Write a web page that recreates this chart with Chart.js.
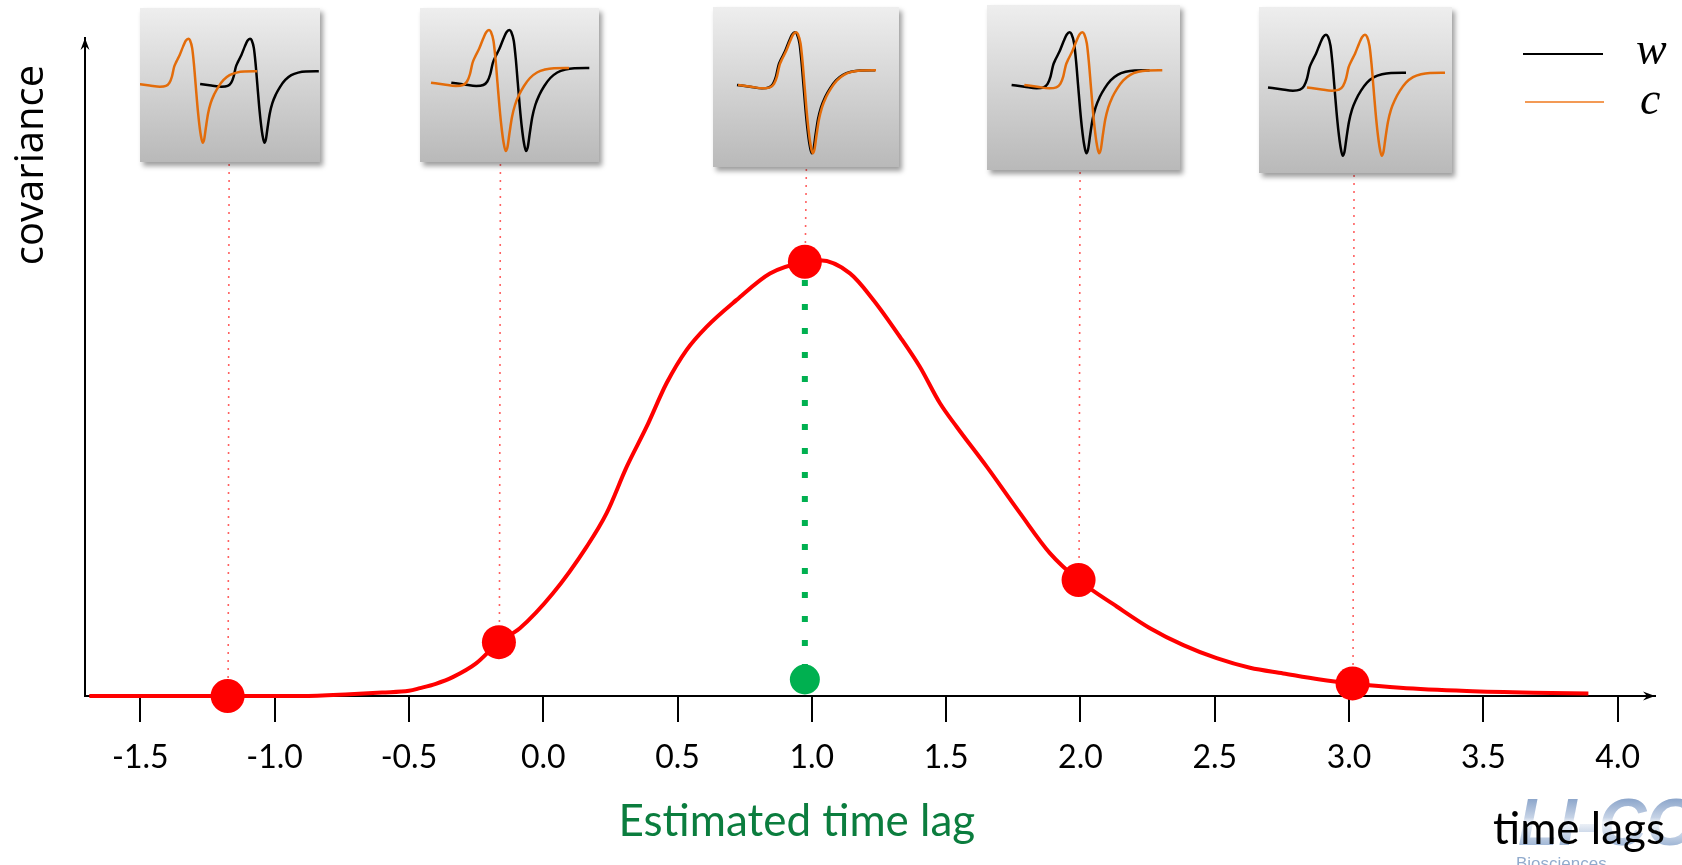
<!DOCTYPE html>
<html>
<head>
<meta charset="utf-8">
<script src="https://cdn.jsdelivr.net/npm/chart.js@4/dist/chart.umd.min.js"></script>
<style>
  html, body { margin: 0; padding: 0; background: #ffffff; }
  #wrap { position: relative; width: 1682px; height: 865px; overflow: hidden; background: #fff; }
  #main { position: absolute; left: 0; top: 0; }
  .inset { position: absolute; background: linear-gradient(#eeeeee, #b9b9b9); box-shadow: 3px 4px 5px rgba(0,0,0,0.38); }
  .inset canvas { position: absolute; left: 0; top: 0; }
</style>
</head>
<body>
<div id="wrap"><canvas id="main" width="1682" height="865"></canvas></div>
<script>
// ---------------- data ----------------
// covariance curve (time lag, covariance normalised to peak = 1)
const curveX = [-1.69, -1.45, -1.175, -0.9, -0.72, -0.6, -0.5, -0.459, -0.40, -0.335, -0.25, -0.165, -0.087,
  0.037, 0.162, 0.236, 0.311, 0.385, 0.459, 0.534, 0.608, 0.720, 0.844, 0.974, 1.030, 1.142, 1.229, 1.328,
  1.402, 1.477, 1.539, 1.651, 1.775, 1.886, 1.993, 2.135, 2.259, 2.383, 2.507, 2.631, 2.755, 2.892, 3.013,
  3.190, 3.438, 3.685, 3.891];
const curveY = [0.0, 0.0, 0.0, 0.0, 0.004, 0.008, 0.012, 0.018, 0.028, 0.044, 0.075, 0.124, 0.156,
  0.237, 0.344, 0.421, 0.528, 0.620, 0.720, 0.797, 0.850, 0.912, 0.973, 1.0, 1.003, 0.973, 0.912, 0.827,
  0.758, 0.674, 0.620, 0.528, 0.421, 0.329, 0.267, 0.206, 0.156, 0.117, 0.087, 0.065, 0.052, 0.038, 0.029,
  0.019, 0.0115, 0.0076, 0.006];
// highlighted lags (red dots)
const lagX = [-1.175, -0.165, 0.974, 1.993, 3.013];
const lagY = [0.0, 0.124, 1.0, 0.267, 0.029];
const peakIndex = 2;
// estimated time lag marker (green)
const estLagX = 0.974;
const estMarkY = 0.038;
// axis ticks
const xTickValues = [-1.5, -1.0, -0.5, 0.0, 0.5, 1.0, 1.5, 2.0, 2.5, 3.0, 3.5, 4.0];
const xMin = -1.706, xMax = 4.139, yMin = 0, yMax = 1.515;
// wave-form shape used in the insets (offset from peak, amplitude above trough)
const pulseDx = [-58, -45, -33, -26, -22, -19, -16.5, -14, -10, -6, -3, 0, 2, 4.5, 6.5, 8.5, 10.5, 12.5, 14.5,
  16.7, 18.5, 20.5, 23, 26, 30, 35, 41, 48, 56, 65, 80];
const pulseV = [68.3, 66.5, 65.0, 66.0, 69.5, 77, 88, 94, 102, 112, 118.5, 121, 119, 110, 92, 68, 44, 24, 9,
  0, 4, 18, 34, 46, 56, 65, 73, 78.5, 81.5, 82.8, 83];
// peak position of w (black) and c (orange) inside each inset
const insetPeakW = [110, 89.3, 82, 82.6, 67];
const insetPeakC = [48.3, 69, 83, 95.3, 106];
const legendLabels = ['w', 'c'];

// ---------------- layout / style ----------------
const insetLayout = [
  { left: 140, top: 8, width: 180, height: 154, trough: 134.7, scale: 0.86 },
  { left: 420, top: 8, width: 179, height: 154, trough: 143, scale: 1 },
  { left: 713, top: 7, width: 186, height: 160, trough: 146.3, scale: 1 },
  { left: 987, top: 5, width: 193, height: 165, trough: 148.3, scale: 1 },
  { left: 1259, top: 7, width: 193, height: 166, trough: 148.7, scale: 1 }
];
const RED = '#ff0000', GREEN = '#00b050', ORANGE = '#e36c0a';
const DOT_R = 17, EST_R = 15;

Chart.defaults.font.family = "Lato, 'Open Sans', sans-serif";

function arrowHead(ctx, tipX, tipY, dx, dy) {
  const len = 12, half = 4.5, notch = 8;
  const px = -dy, py = dx;
  ctx.beginPath();
  ctx.moveTo(tipX, tipY);
  ctx.lineTo(tipX - dx * len + px * half, tipY - dy * len + py * half);
  ctx.lineTo(tipX - dx * notch, tipY - dy * notch);
  ctx.lineTo(tipX - dx * len - px * half, tipY - dy * len - py * half);
  ctx.closePath();
  ctx.fill();
}

const overlay = {
  id: 'overlay',
  beforeDraw(chart) {
    const ctx = chart.ctx;
    // LI-COR watermark (bottom right)
    ctx.save();
    ctx.globalAlpha = 0.85;
    const g = ctx.createLinearGradient(0, 795, 0, 845);
    g.addColorStop(0, '#6a8bbb');
    g.addColorStop(0.45, '#bccbe2');
    g.addColorStop(0.55, '#eef2f8');
    g.addColorStop(1, '#91abcf');
    ctx.fillStyle = g;
    ctx.font = "italic bold 66px 'Liberation Sans'";
    ctx.textAlign = 'left';
    ctx.textBaseline = 'alphabetic';
    ctx.fillText('LI-COR', 1518, 845);
    ctx.fillStyle = '#7e9cc4';
    ctx.font = "17px 'Liberation Sans'";
    ctx.fillText('Biosciences', 1516, 869);
    ctx.restore();
  },
  beforeDatasetsDraw(chart) {
    const ctx = chart.ctx;
    const xs = chart.scales.x, ys = chart.scales.y;
    ctx.save();
    ctx.strokeStyle = 'rgba(255,80,80,0.9)';
    ctx.lineWidth = 1.6;
    ctx.setLineDash([2, 6]);
    lagX.forEach((v, i) => {
      const px = xs.getPixelForValue(v);
      const b = insetLayout[i];
      const yTop = b.top + b.height + 2;
      const yBot = ys.getPixelForValue(lagY[i]) - DOT_R;
      ctx.beginPath();
      ctx.moveTo(px + 1.5, yTop);
      ctx.lineTo(px + 0.5, yBot);
      ctx.stroke();
    });
    ctx.restore();
  },
  afterDraw(chart) {
    const ctx = chart.ctx;
    const ca = chart.chartArea;
    const xs = chart.scales.x;
    ctx.save();
    ctx.fillStyle = '#000';
    arrowHead(ctx, ca.right, ca.bottom, 1, 0);
    arrowHead(ctx, ca.left, ca.top, 0, -1);
    ctx.save();
    ctx.translate(43, 165);
    ctx.rotate(-Math.PI / 2);
    ctx.font = "40px 'Open Sans'";
    ctx.fillStyle = '#000';
    ctx.textAlign = 'center';
    ctx.textBaseline = 'alphabetic';
    ctx.fillText('covariance', 0, 0);
    ctx.restore();
    ctx.font = "44px Lato";
    ctx.fillStyle = '#000';
    ctx.textAlign = 'right';
    ctx.textBaseline = 'alphabetic';
    ctx.fillText('time lags', 1665, 844);
    ctx.font = "44px Lato";
    ctx.fillStyle = '#0b7d3e';
    ctx.textAlign = 'center';
    ctx.fillText('Estimated time lag', xs.getPixelForValue(estLagX) - 8, 836);
    ctx.lineWidth = 2;
    ctx.strokeStyle = '#000';
    ctx.beginPath(); ctx.moveTo(1523, 54); ctx.lineTo(1603, 54); ctx.stroke();
    ctx.strokeStyle = '#f39a55';
    ctx.beginPath(); ctx.moveTo(1525, 102); ctx.lineTo(1604, 102); ctx.stroke();
    ctx.fillStyle = '#000';
    ctx.font = "italic 46px 'Liberation Serif'";
    ctx.textAlign = 'left';
    ctx.textBaseline = 'alphabetic';
    ctx.fillText(legendLabels[0], 1636, 64);
    ctx.fillText(legendLabels[1], 1640, 114);
    ctx.restore();
  }
};

new Chart(document.getElementById('main'), {
  type: 'line',
  data: {
    datasets: [
      { label: 'covariance', data: curveX.map((x, i) => ({ x, y: curveY[i] })), borderColor: RED, borderWidth: 4,
        pointRadius: 0, cubicInterpolationMode: 'monotone', fill: false, clip: false, order: 3 },
      { label: 'estimate', data: [{ x: estLagX, y: lagY[peakIndex] }, { x: estLagX, y: estMarkY }], borderColor: GREEN,
        borderWidth: 6, borderDash: [6, 18], borderDashOffset: 5.7, borderCapStyle: 'butt', pointRadius: 0,
        tension: 0, fill: false, clip: false, order: 4 },
      { label: 'estMark', data: [{ x: estLagX, y: estMarkY }], showLine: false, pointRadius: EST_R,
        pointBackgroundColor: GREEN, backgroundColor: GREEN, pointBorderWidth: 0, borderWidth: 0, clip: false, order: 2 },
      { label: 'lags', data: lagX.map((x, i) => ({ x, y: lagY[i] })), showLine: false, pointRadius: DOT_R,
        pointBackgroundColor: RED, backgroundColor: RED, pointBorderWidth: 0, borderWidth: 0, clip: false, order: 1 }
    ]
  },
  options: {
    responsive: false, animation: false, devicePixelRatio: 1, events: [],
    layout: { padding: { left: 0, top: 38, right: 27, bottom: 0 } },
    plugins: { legend: { display: false }, tooltip: { enabled: false } },
    scales: {
      x: {
        type: 'linear', min: xMin, max: xMax,
        afterBuildTicks: s => { s.ticks = xTickValues.map(v => ({ value: v })); },
        afterFit: s => { s.height = 169; },
        grid: { display: true, drawOnChartArea: false, drawTicks: true, tickLength: 26, color: '#000',
          lineWidth: 2, tickColor: '#000', tickWidth: 2 },
        border: { display: true, color: '#000', width: 2 },
        ticks: { color: '#000', font: { family: 'Lato', size: 32 }, padding: 16, maxRotation: 0, autoSkip: false,
          callback: v => Number(v).toFixed(1) }
      },
      y: {
        type: 'linear', min: yMin, max: yMax,
        afterFit: s => { s.width = 85; },
        grid: { display: false },
        border: { display: true, color: '#000', width: 2 },
        ticks: { display: false }
      }
    }
  },
  plugins: [overlay]
});

// ---------------- insets ----------------
const wrap = document.getElementById('wrap');
insetLayout.forEach((b, i) => {
  const div = document.createElement('div');
  div.className = 'inset';
  div.style.left = b.left + 'px';
  div.style.top = b.top + 'px';
  div.style.width = b.width + 'px';
  div.style.height = b.height + 'px';
  const cv = document.createElement('canvas');
  cv.width = b.width; cv.height = b.height;
  div.appendChild(cv);
  wrap.appendChild(div);
  const mk = peak => pulseDx.map((d, k) => ({ x: peak + d * b.scale, y: b.trough - pulseV[k] * b.scale }));
  new Chart(cv, {
    type: 'line',
    data: {
      datasets: [
        { data: mk(insetPeakW[i]), borderColor: '#000', borderWidth: 2.5, pointRadius: 0,
          cubicInterpolationMode: 'monotone', fill: false, order: 2 },
        { data: mk(insetPeakC[i]), borderColor: ORANGE, borderWidth: 2.5, pointRadius: 0,
          cubicInterpolationMode: 'monotone', fill: false, order: 1 }
      ]
    },
    options: {
      responsive: false, animation: false, devicePixelRatio: 1, events: [],
      layout: { padding: 0 },
      plugins: { legend: { display: false }, tooltip: { enabled: false } },
      scales: {
        x: { type: 'linear', display: false, min: 0, max: b.width },
        y: { type: 'linear', display: false, min: 0, max: b.height, reverse: true }
      }
    }
  });
});
</script>
</body>
</html>
